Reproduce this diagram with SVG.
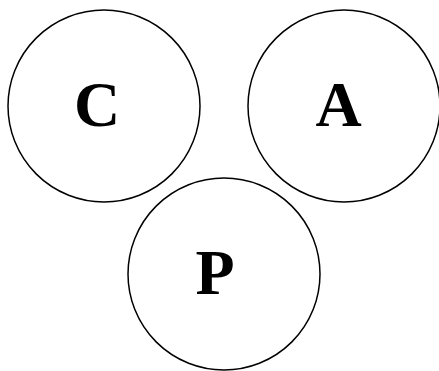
<svg xmlns="http://www.w3.org/2000/svg" width="439" height="371" viewBox="0 0 439 371">
<style>
.n{fill:#fff;stroke:#000;stroke-width:1.5}
.t{font-family:"Liberation Serif","Times New Roman",serif;font-weight:bold;font-size:64px;text-anchor:middle;fill:#000}
</style>
<rect width="439" height="371" fill="#fff"/>
<g id="connectors"></g>
<g id="node-C"><circle class="n" cx="104" cy="106" r="96"/><text class="t" x="97" y="126">C</text></g>
<g id="node-A"><circle class="n" cx="344" cy="106" r="96"/><text class="t" x="338.5" y="126">A</text></g>
<g id="node-P"><circle class="n" cx="224" cy="274" r="96"/><text class="t" x="215" y="294">P</text></g>
</svg>
